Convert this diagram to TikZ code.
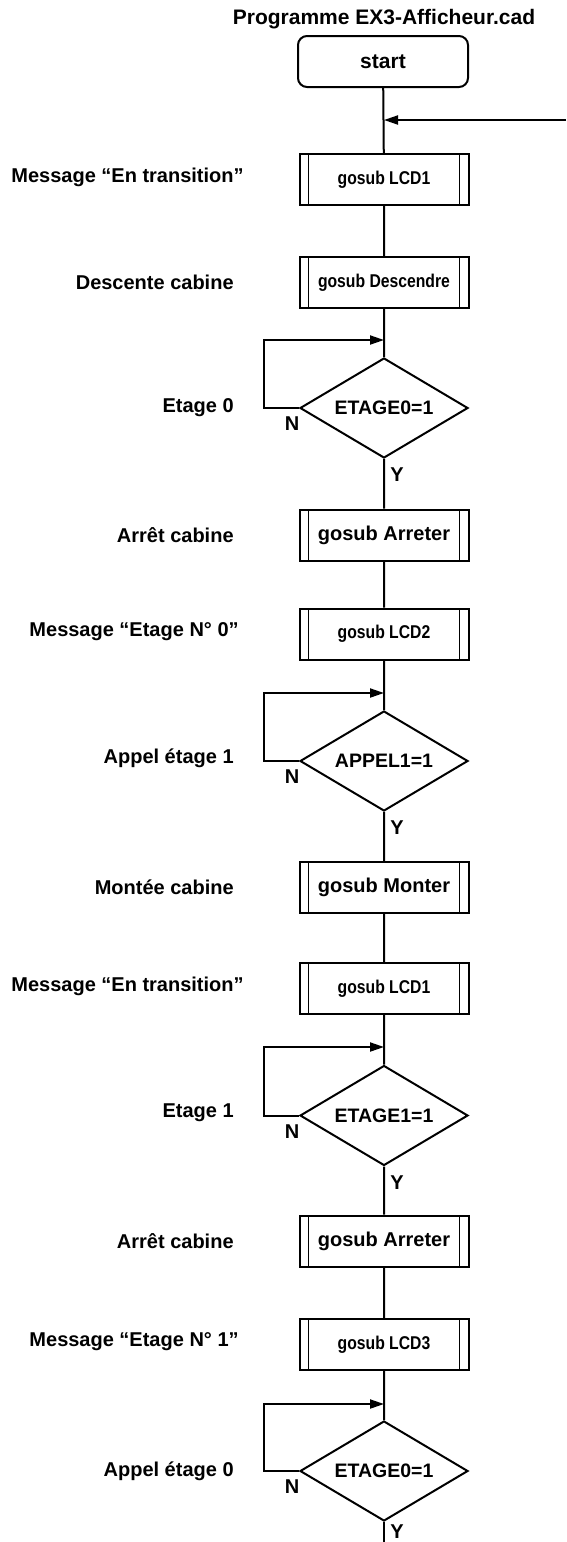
\documentclass[tikz,border=0pt]{standalone}
\usepackage{fontspec}
\setmainfont{Liberation Sans}
\newfontfamily\condfont{Liberation Sans}[FakeStretch=0.85]
\usetikzlibrary{shapes.geometric,arrows.meta}

\begin{document}
\begin{tikzpicture}[
      x=1pt, y=-1pt,
      line width=2pt,
      lbl/.style={font=\fontsize{20}{24}\selectfont\bfseries, anchor=east},
      yn/.style={font=\fontsize{20}{24}\selectfont\bfseries, inner sep=1pt},
      startbox/.style={draw, rounded corners=9pt, minimum width=170pt, minimum height=51pt, font=\fontsize{21}{25}\selectfont\bfseries},
      sub/.style={draw, minimum width=169pt, minimum height=51pt, font=\fontsize{20}{24}\selectfont\bfseries,
        path picture={\draw[line width=1.8pt]
          ([xshift=9pt]path picture bounding box.north west) -- ([xshift=9pt]path picture bounding box.south west)
          ([xshift=-9pt]path picture bounding box.north east) -- ([xshift=-9pt]path picture bounding box.south east);}},
      lcd/.style={sub, font=\condfont\fontsize{18.5}{22}\selectfont\bfseries},
      test/.style={draw, diamond, aspect=1.68, inner sep=1pt, minimum width=168pt, minimum height=100pt, font=\fontsize{19.5}{23}\selectfont\bfseries},
      arr/.style={-{Triangle[length=14pt,width=9pt]}}
    ]
    \useasboundingbox (0,0) rectangle (566,1542);

    % title
    \node[font=\fontsize{21}{25}\selectfont\bfseries] (title) at (384,19) {Programme EX3-Afficheur.cad};
    \node[startbox] (start) at (383,61.5) {start};
    \coordinate (j0) at (384,120);
    \coordinate (back) at (566,120);

    % Message en transition
    \node[lbl] (l1) at (248,177) {Message “En transition”};
    \node[lcd] (lcd1a) at (384,179.5) {gosub LCD1};

    % Descente
    \node[lbl] (l2) at (238,282.5) {Descente cabine};
    \node[lcd] (desc) at (384,282.5) {gosub Descendre};

    % Etage 0
    \coordinate (j1) at (384,340);
    \node[lbl] (l3) at (238,408) {Etage 0};
    \node[test] (d1) at (384,408) {ETAGE0=1};
    \node[yn] (n1) at ([xshift=-7pt,yshift=-16pt]d1.west) {N};
    \node[yn] (y1) at ([xshift=13pt,yshift=-16pt]d1.south) {Y};

    % Arret
    \node[lbl] (l4) at (238,535) {Arrêt cabine};
    \node[sub] (arr1) at (384,535) {gosub Arreter};

    % Message etage 0
    \node[lbl] (l5) at (243,632) {Message “Etage N° 0”};
    \node[lcd] (lcd2) at (384,634) {gosub LCD2};

    % Appel etage 1
    \coordinate (j2) at (384,693);
    \node[lbl] (l6) at (238,758) {Appel étage 1};
    \node[test] (d2) at (384,761) {APPEL1=1};
    \node[yn] (n2) at ([xshift=-7pt,yshift=-16pt]d2.west) {N};
    \node[yn] (y2) at ([xshift=13pt,yshift=-16pt]d2.south) {Y};

    % Montee
    \node[lbl] (l7) at (238,887.5) {Montée cabine};
    \node[sub] (mont) at (384,887.5) {gosub Monter};

    % Message en transition
    \node[lbl] (l8) at (248,986) {Message “En transition”};
    \node[lcd] (lcd1b) at (384,988.5) {gosub LCD1};

    % Etage 1
    \coordinate (j3) at (384,1047);
    \node[lbl] (l9) at (238,1113) {Etage 1};
    \node[test] (d3) at (384,1115.5) {ETAGE1=1};
    \node[yn] (n3) at ([xshift=-7pt,yshift=-16pt]d3.west) {N};
    \node[yn] (y3) at ([xshift=13pt,yshift=-16pt]d3.south) {Y};

    % Arret
    \node[lbl] (l10) at (238,1241) {Arrêt cabine};
    \node[sub] (arr2) at (384,1241) {gosub Arreter};

    % Message etage 1
    \node[lbl] (l11) at (243,1342) {Message “Etage N° 1”};
    \node[lcd] (lcd3) at (384,1344.5) {gosub LCD3};

    % Appel etage 0
    \coordinate (j4) at (384,1404);
    \node[lbl] (l12) at (238,1471) {Appel étage 0};
    \node[test] (d4) at (384,1471) {ETAGE0=1};
    \node[yn] (n4) at ([xshift=-7pt,yshift=-16pt]d4.west) {N};
    \node[yn] (y4) at ([xshift=13pt,yshift=-10pt]d4.south) {Y};
    \coordinate (out) at (384,1542);

    % main line
    \draw (start) -- (lcd1a) -- (desc) -- (d1) -- (arr1) -- (lcd2) -- (d2) -- (mont) -- (lcd1b) -- (d3) -- (arr2) -- (lcd3) -- (d4);
    \draw (d4.south) -- (out);
    \draw[arr] (back) -- (j0);

    % loops
    \draw[arr] (d1.west) -- ++(-35,0) |- (j1);
    \draw[arr] (d2.west) -- ++(-35,0) |- (j2);
    \draw[arr] (d3.west) -- ++(-35,0) |- (j3);
    \draw[arr] (d4.west) -- ++(-35,0) |- (j4);
  \end{tikzpicture}
\end{document}
